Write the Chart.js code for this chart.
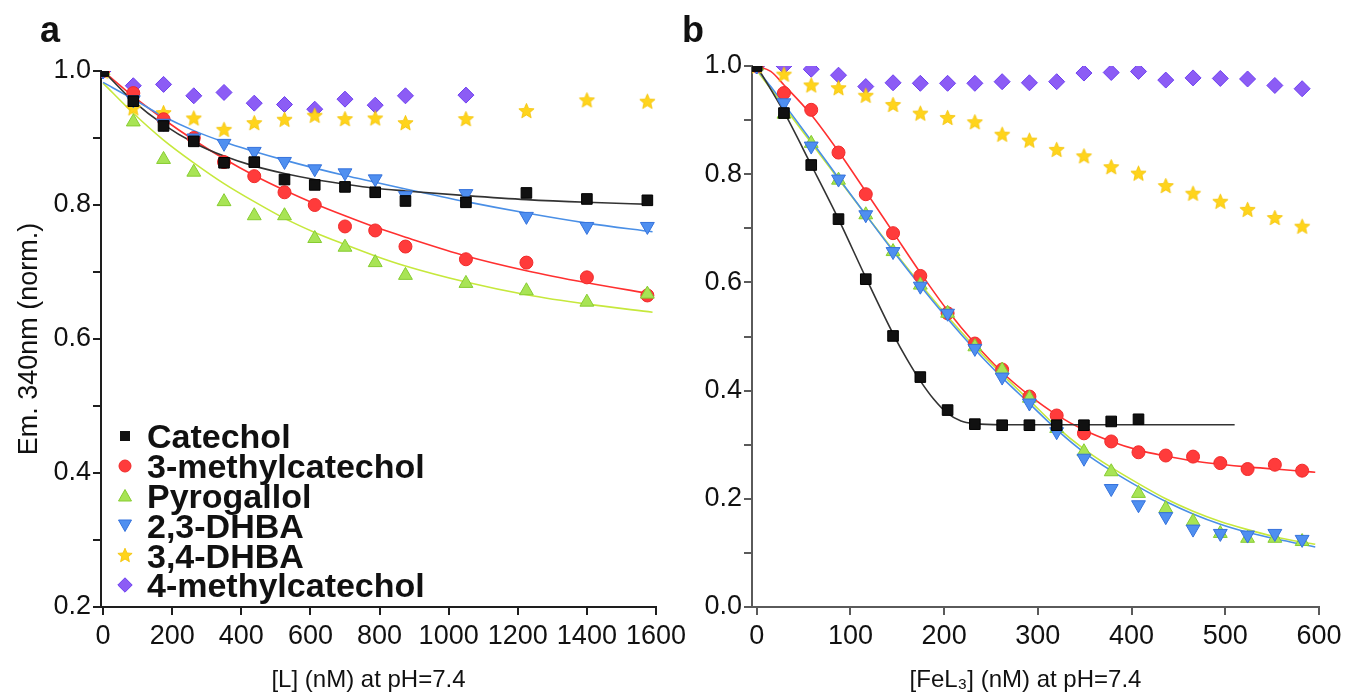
<!DOCTYPE html>
<html><head><meta charset="utf-8">
<script src="https://cdn.jsdelivr.net/npm/chart.js@4.4.1/dist/chart.umd.min.js"></script>
<style>
html,body{margin:0;padding:0;background:#fff;}
#wrap{position:relative;width:1346px;height:698px;overflow:hidden;background:#fff;font-family:"Liberation Sans",Arial,sans-serif;}
canvas{position:absolute;top:0;}
#ca{left:0;z-index:2;} #cb{left:673px;z-index:1;}
.lbl{position:absolute;font-weight:bold;font-size:36px;color:#111;line-height:1;z-index:3;}
.row{position:absolute;left:147px;font-weight:bold;font-size:34px;line-height:34px;color:#111;white-space:nowrap;z-index:3;}
.mk{position:absolute;left:117px;width:16px;height:16px;z-index:3;}
</style></head><body>
<div id="wrap">
<canvas id="ca" width="700" height="698"></canvas>
<canvas id="cb" width="673" height="698"></canvas>
<div class="lbl" style="left:40px;top:12px">a</div>
<div class="lbl" style="left:682px;top:12px">b</div>
<div id="legend"></div>
</div>
<script>
// ---------- panel a data ----------
const seriesNames = ['Catechol','3-methylcatechol','Pyrogallol','2,3-DHBA','3,4-DHBA','4-methylcatechol'];
const xA = [0, 87.5, 175, 262.5, 350, 437.5, 525, 612.5, 700, 787.5, 875, 1050, 1225, 1400, 1575];
const catecholA   = [1.0, 0.955, 0.918, 0.895, 0.863, 0.864, 0.838, 0.830, 0.827, 0.819, 0.806, 0.804, 0.818, 0.809, 0.807];
const methyl3A    = [1.0, 0.967, 0.928, 0.900, 0.864, 0.843, 0.819, 0.800, 0.768, 0.762, 0.738, 0.719, 0.714, 0.692, 0.665];
const pyrogallolA = [1.0, 0.924, 0.868, 0.849, 0.805, 0.784, 0.784, 0.750, 0.737, 0.714, 0.695, 0.683, 0.672, 0.655, 0.667];
const dhba23A     = [1.0, 0.957, 0.922, 0.900, 0.892, 0.880, 0.865, 0.854, 0.848, 0.839, 0.814, 0.817, 0.783, 0.768, 0.768];
const dhba34A     = [1.0, 0.945, 0.938, 0.930, 0.913, 0.923, 0.928, 0.934, 0.929, 0.930, 0.923, 0.929, 0.941, 0.957, 0.955];
const methyl4A    = [1.0, 0.978, 0.980, 0.963, 0.968, 0.952, 0.950, 0.943, 0.958, 0.949, 0.963, 0.964];
// fitted curves, panel a
const fitXA = [0, 87.5, 175, 262.5, 350, 437.5, 525, 612.5, 700, 787.5, 875, 1050, 1225, 1400, 1590];
const fitCatecholA   = [1.0, 0.955, 0.920, 0.893, 0.873, 0.858, 0.847, 0.838, 0.831, 0.825, 0.821, 0.814, 0.808, 0.804, 0.801];
const fitMethyl3A    = [1.0, 0.962, 0.928, 0.897, 0.869, 0.844, 0.822, 0.802, 0.784, 0.767, 0.752, 0.724, 0.702, 0.684, 0.667];
const fitPyrogallolA = [0.982, 0.937, 0.897, 0.863, 0.832, 0.805, 0.780, 0.759, 0.741, 0.724, 0.709, 0.685, 0.666, 0.652, 0.640];
const fitDhba23A     = [0.983, 0.958, 0.932, 0.911, 0.894, 0.880, 0.867, 0.855, 0.844, 0.834, 0.824, 0.805, 0.788, 0.773, 0.760];
const xTicksA = [0, 200, 400, 600, 800, 1000, 1200, 1400, 1600];
const yMajorA = [0.2, 0.4, 0.6, 0.8, 1.0];
const yMinorA = [0.3, 0.5, 0.7, 0.9];

// ---------- panel b data ----------
const xB = [0, 29.1, 58.2, 87.3, 116.4, 145.5, 174.6, 203.7, 232.8, 261.9, 291, 320.1, 349.2, 378.3, 407.4, 436.5, 465.6, 494.7, 523.8, 552.9, 582];
const catecholB   = [1.0, 0.913, 0.817, 0.717, 0.606, 0.501, 0.425, 0.364, 0.338, 0.336, 0.336, 0.336, 0.336, 0.343, 0.347];
const methyl3B    = [1.0, 0.950, 0.919, 0.840, 0.763, 0.691, 0.612, 0.543, 0.487, 0.439, 0.389, 0.354, 0.321, 0.306, 0.286, 0.280, 0.278, 0.266, 0.255, 0.263, 0.252];
const pyrogallolB = [1.0, 0.911, 0.857, 0.789, 0.725, 0.657, 0.595, 0.543, 0.481, 0.438, 0.386, 0.330, 0.287, 0.250, 0.210, 0.182, 0.158, 0.136, 0.127, 0.127, 0.121];
const dhba23B     = [1.0, 0.932, 0.852, 0.791, 0.725, 0.657, 0.593, 0.543, 0.478, 0.425, 0.377, 0.324, 0.275, 0.219, 0.189, 0.167, 0.144, 0.136, 0.133, 0.136, 0.125];
const dhba34B     = [1.0, 0.985, 0.965, 0.960, 0.946, 0.929, 0.913, 0.905, 0.897, 0.874, 0.863, 0.846, 0.834, 0.814, 0.802, 0.779, 0.765, 0.750, 0.735, 0.720, 0.704];
const methyl4B    = [1.0, 1.0, 0.994, 0.983, 0.962, 0.969, 0.968, 0.968, 0.968, 0.971, 0.969, 0.971, 0.987, 0.988, 0.990, 0.974, 0.978, 0.977, 0.976, 0.964, 0.958];
// fitted curves, panel b
const fitXB = [0, 15, 29.1, 58.2, 87.3, 116.4, 145.5, 174.6, 203.7, 232.8, 261.9, 291, 320.1, 349.2, 378.3, 407.4, 436.5, 465.6, 494.7, 523.8, 552.9, 582, 596];
const fitMethyl3B    = [1.0, 0.990, 0.965, 0.910, 0.842, 0.768, 0.693, 0.618, 0.548, 0.487, 0.434, 0.391, 0.355, 0.327, 0.306, 0.290, 0.279, 0.270, 0.264, 0.259, 0.255, 0.251, 0.249];
const fitPyrogallolB = [0.992, 0.958, 0.925, 0.858, 0.791, 0.725, 0.660, 0.597, 0.537, 0.481, 0.430, 0.382, 0.333, 0.292, 0.258, 0.228, 0.200, 0.177, 0.158, 0.143, 0.130, 0.120, 0.116];
const fitDhba23B     = [0.995, 0.962, 0.930, 0.862, 0.793, 0.725, 0.658, 0.594, 0.533, 0.476, 0.424, 0.376, 0.328, 0.286, 0.252, 0.222, 0.195, 0.172, 0.153, 0.138, 0.126, 0.116, 0.111];
const fitXCatB       = [0, 29.1, 58.2, 87.3, 116.4, 145.5, 160, 174.6, 189, 203.7, 218, 232.8, 261.9, 300, 400, 510];
const fitCatecholB   = [1.0, 0.915, 0.817, 0.717, 0.609, 0.505, 0.459, 0.418, 0.384, 0.358, 0.344, 0.339, 0.337, 0.337, 0.337, 0.337];
const xTicksB = [0, 100, 200, 300, 400, 500, 600];
const yMajorB = [0.0, 0.2, 0.4, 0.6, 0.8, 1.0];
const yMinorB = [0.1, 0.3, 0.5, 0.7, 0.9];

// ---------- styles ----------
const COL = {
  cat:  {fill:'#111111', edge:'#000000', line:'#333333'},
  m3:   {fill:'#ff3b3b', edge:'#f02a2a', line:'#ff3030'},
  pyr:  {fill:'#a8e455', edge:'#86cc30', line:'#c6e83c'},
  d23:  {fill:'#4f8ff0', edge:'#3572dc', line:'#4a8fe6'},
  d34:  {fill:'#ffd41c', edge:'#f2c200'},
  m4:   {fill:'#8c5cf5', edge:'#6c3ff0'}
};
function starCanvas(r, fill, edge){
  const s = Math.ceil(r*2+3), c = document.createElement('canvas');
  c.width = s; c.height = s;
  const g = c.getContext('2d'), cx = s/2, cy = s/2 + r*0.1;
  g.beginPath();
  for (let i=0;i<10;i++){const a=-Math.PI/2+i*Math.PI/5, rr=i%2?r*0.45:r; g.lineTo(cx+rr*Math.cos(a), cy+rr*Math.sin(a));}
  g.closePath(); g.fillStyle=fill; g.fill(); g.strokeStyle=edge; g.lineWidth=0.8; g.stroke();
  return c;
}
const STAR = starCanvas(8, COL.d34.fill, COL.d34.edge);

const pts = (xs, ys) => ys.map((y,i)=>({x:xs[i], y}));
function marks(label, xs, ys, c, style, r, rot){
  return {label, data: pts(xs, ys), showLine:false, pointStyle:style, pointRadius:r, pointHoverRadius:r,
    pointRotation:rot||0, pointBackgroundColor:c.fill, pointBorderColor:c.edge, pointBorderWidth:1};
}
function fit(label, xs, ys, color){
  return {label, data: pts(xs, ys), showLine:true, pointRadius:0, pointHoverRadius:0, borderColor:color,
    borderWidth:1.6, cubicInterpolationMode:'monotone', fill:false};
}

function makeChart(id, o){
  const FF = '"Liberation Sans", Arial, sans-serif';
  const tickFont = {family:FF, size:27};
  const majors = o.yMajor, all = o.yMajor.concat(o.yMinor).sort((a,b)=>a-b);
  return new Chart(document.getElementById(id), {
    type:'scatter',
    data:{datasets:o.datasets},
    options:{
      responsive:false, animation:false, devicePixelRatio:1,
      layout:{padding:{left:0, right:o.padRight, top:o.padTop, bottom:0}},
      plugins:{legend:{display:false}, tooltip:{enabled:false}},
      scales:{
        x:{type:'linear', min:o.xMin, max:o.xMax,
          afterBuildTicks:s=>{s.ticks = o.xTicks.map(v=>({value:v}));},
          afterFit:s=>{s.height = o.xHeight; s.paddingLeft = 0; s.paddingRight = 0;},
          ticks:{autoSkip:false, maxRotation:0, minRotation:0, padding:5, color:'#111', font:tickFont, callback:v=>String(v)},
          grid:{drawOnChartArea:false, drawTicks:true, tickLength:8, color:o.axisColor, lineWidth:2},
          border:{display:true, color:o.axisColor, width:2},
          title:{display:true, text:o.xTitle, color:'#111', font:{family:FF, size:24}, padding:{top:0,bottom:3}}
        },
        y:{type:'linear', min:o.yMin, max:o.yMax,
          afterBuildTicks:s=>{s.ticks = all.map(v=>({value:v}));},
          afterFit:s=>{s.width = o.yWidth; s.paddingTop = 0; s.paddingBottom = 0;},
          ticks:{autoSkip:false, padding:2, color:'#111', font:tickFont,
            callback:v=> majors.some(m=>Math.abs(m-v)<1e-6) ? v.toFixed(1) : ''},
          grid:{drawOnChartArea:false, drawTicks:true, tickLength:8, color:o.axisColor, lineWidth:2},
          border:{display:true, color:o.axisColor, width:2},
          title:{display:!!o.yTitle, text:o.yTitle||'', color:'#111', font:{family:FF, size:27}, padding:{top:13,bottom:0}}
        }
      }
    }
  });
}

makeChart('ca', {
  xMin:-6, xMax:1600, yMin:0.2, yMax:1.0, xTicks:xTicksA, yMajor:yMajorA, yMinor:yMinorA,
  padRight:44, padTop:71, xHeight:91, yWidth:101, axisColor:'#1e1e1e',
  xTitle:'[L] (nM) at pH=7.4   ', yTitle:'Em. 340nm (norm.)',
  datasets:[
    marks(seriesNames[0], xA, catecholA, COL.cat, 'rect', 7.5),
    marks(seriesNames[3], xA, dhba23A, COL.d23, 'triangle', 8, 180),
    marks(seriesNames[2], xA, pyrogallolA, COL.pyr, 'triangle', 8),
    marks(seriesNames[1], xA, methyl3A, COL.m3, 'circle', 6.5),
    marks(seriesNames[4], xA, dhba34A, COL.d34, STAR, 8),
    marks(seriesNames[5], xA.slice(0, methyl4A.length), methyl4A, COL.m4, 'rectRot', 8),
    fit('fit '+seriesNames[0], fitXA, fitCatecholA, COL.cat.line),
    fit('fit '+seriesNames[3], fitXA, fitDhba23A, COL.d23.line),
    fit('fit '+seriesNames[1], fitXA, fitMethyl3A, COL.m3.line),
    fit('fit '+seriesNames[2], fitXA, fitPyrogallolA, COL.pyr.line)
  ]
});

makeChart('cb', {
  xMin:-5, xMax:600, yMin:0.0, yMax:1.0, xTicks:xTicksB, yMajor:yMajorB, yMinor:yMinorB,
  padRight:27, padTop:66, xHeight:91, yWidth:79, axisColor:'#5a5a5a',
  xTitle:'[FeL\u2083] (nM) at pH=7.4   ', yTitle:null,
  datasets:[
    marks(seriesNames[0], xB.slice(0, catecholB.length), catecholB, COL.cat, 'rect', 7.5),
    marks(seriesNames[3], xB, dhba23B, COL.d23, 'triangle', 8, 180),
    marks(seriesNames[2], xB, pyrogallolB, COL.pyr, 'triangle', 8),
    marks(seriesNames[1], xB, methyl3B, COL.m3, 'circle', 6.5),
    marks(seriesNames[4], xB, dhba34B, COL.d34, STAR, 8),
    marks(seriesNames[5], xB, methyl4B, COL.m4, 'rectRot', 8),
    fit('fit '+seriesNames[0], fitXCatB, fitCatecholB, COL.cat.line),
    fit('fit '+seriesNames[3], fitXB, fitDhba23B, COL.d23.line),
    fit('fit '+seriesNames[2], fitXB, fitPyrogallolB, COL.pyr.line),
    fit('fit '+seriesNames[1], fitXB, fitMethyl3B, COL.m3.line)
  ]
});

// ---------- legend (panel a) ----------
function starPts(cx, cy, r){const p=[];for(let i=0;i<10;i++){const a=-Math.PI/2+i*Math.PI/5, rr=i%2?r*0.45:r;p.push((cx+rr*Math.cos(a)).toFixed(2)+','+(cy+rr*Math.sin(a)).toFixed(2));}return p.join(' ');}
const legendMarks = [
  `<rect x="3" y="3" width="10" height="10" fill="${COL.cat.fill}"/>`,
  `<circle cx="8" cy="8" r="6" fill="${COL.m3.fill}" stroke="${COL.m3.edge}"/>`,
  `<polygon points="8,1.5 14.5,13 1.5,13" fill="${COL.pyr.fill}" stroke="${COL.pyr.edge}"/>`,
  `<polygon points="1.5,3 14.5,3 8,14.5" fill="${COL.d23.fill}" stroke="${COL.d23.edge}"/>`,
  `<polygon points="${starPts(8,8.7,7.5)}" fill="${COL.d34.fill}" stroke="${COL.d34.edge}" stroke-width="0.8"/>`,
  `<polygon points="8,0.8 15.2,8 8,15.2 0.8,8" fill="${COL.m4.fill}" stroke="${COL.m4.edge}"/>`
];
const lg = document.getElementById('legend');
seriesNames.forEach((n,i)=>{
  const cy = 436 + i*29.8;
  const m = document.createElement('div'); m.className='mk'; m.style.top=(cy-8)+'px';
  m.innerHTML = `<svg width="16" height="16" viewBox="0 0 16 16">${legendMarks[i]}</svg>`;
  const t = document.createElement('div'); t.className='row'; t.style.top=(cy-16.7)+'px'; t.textContent=n;
  lg.appendChild(m); lg.appendChild(t);
});
</script>
</body></html>
